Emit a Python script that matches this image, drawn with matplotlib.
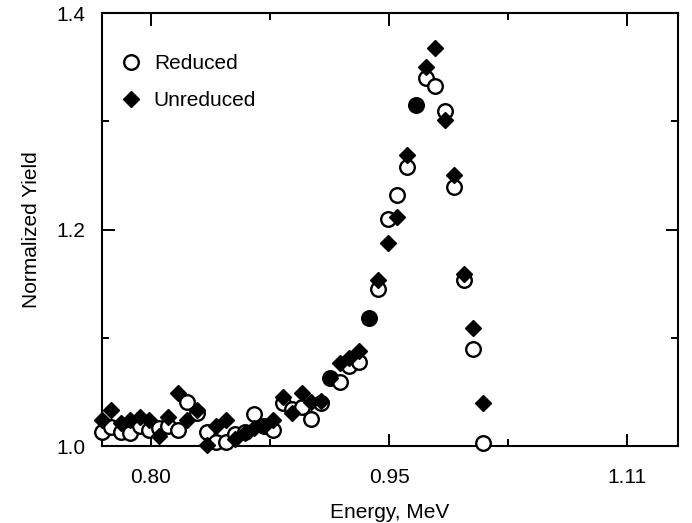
import matplotlib
matplotlib.use("Agg")
import matplotlib.pyplot as plt
import numpy as np

plt.rcParams['font.family'] = ['Liberation Sans', 'DejaVu Sans']

# energy grid, MeV
energy = [0.769, 0.775, 0.781, 0.787, 0.793, 0.799, 0.805, 0.811, 0.817, 0.823,
          0.829, 0.835, 0.841, 0.847, 0.853, 0.859, 0.865, 0.871, 0.877, 0.883,
          0.889, 0.895, 0.901, 0.907, 0.913, 0.919, 0.925, 0.931, 0.937, 0.943,
          0.949, 0.955, 0.961, 0.967, 0.973, 0.979, 0.985, 0.991, 0.997, 1.003,
          1.009]

reduced = [1.013, 1.018, 1.013, 1.012, 1.019, 1.015, 1.017, 1.019, 1.015, 1.041,
           1.031, 1.013, 1.004, 1.004, 1.011, 1.013, 1.030, 1.019, 1.015, 1.040,
           1.034, 1.036, 1.025, 1.040, 1.063, 1.059, 1.074, 1.078, 1.118, 1.145,
           1.210, 1.232, 1.258, 1.315, 1.340, 1.333, 1.310, 1.239, 1.153, 1.090,
           1.003]

unreduced = [1.024, 1.033, 1.021, 1.024, 1.027, 1.024, 1.009, 1.027, 1.049, 1.024,
             1.033, 1.001, 1.019, 1.024, 1.007, 1.012, 1.017, 1.019, 1.024, 1.045,
             1.031, 1.049, 1.041, 1.042, 1.063, 1.077, 1.081, 1.088, 1.118, 1.153,
             1.188, 1.212, 1.269, 1.315, 1.350, 1.368, 1.301, 1.250, 1.159, 1.109,
             1.040]

xticks = [0.80, 0.95, 1.10]
xtick_labels = ['0.80', '0.95', '1.11']
yticks = [1.0, 1.2, 1.4]

fig = plt.figure(figsize=(6.92, 5.23), dpi=100)
ax = fig.add_axes([0.147, 0.147, 0.833, 0.828])

ax.plot(energy, reduced, linestyle='none', marker='o', markersize=10.5,
        markerfacecolor='white', markeredgecolor='black', markeredgewidth=1.7,
        label='Reduced', clip_on=False, zorder=3)
ax.plot(energy, unreduced, linestyle='none', marker='D', markersize=8.5,
        markerfacecolor='black', markeredgecolor='black',
        label='Unreduced', clip_on=False, zorder=4)

ax.set_xlim(0.769, 1.132)
ax.set_ylim(1.0, 1.4)
ax.set_xticks(xticks)
ax.set_xticklabels(xtick_labels)
ax.set_xticks([0.875, 1.025], minor=True)
ax.set_yticks(yticks)
ax.set_yticklabels(['1.0', '1.2', '1.4'])
ax.set_yticks([1.1, 1.3], minor=True)

ax.tick_params(which='both', direction='in', top=True, right=True,
               width=1.4, labelsize=15)
ax.tick_params(axis='x', which='both', pad=16)
ax.tick_params(axis='y', which='both', pad=12)
ax.tick_params(which='major', length=9)
ax.tick_params(which='minor', length=5)
for s in ax.spines.values():
    s.set_linewidth(1.5)

ax.set_xlabel('Energy, MeV', fontsize=15, labelpad=11)
ax.set_ylabel('Normalized Yield', fontsize=15, labelpad=11)

ax.legend(loc='upper left', bbox_to_anchor=(0.0, 0.948), frameon=False,
          fontsize=15, numpoints=1, handlelength=1.0, handletextpad=0.6,
          labelspacing=0.85)

fig.savefig('out.png', dpi=100)
